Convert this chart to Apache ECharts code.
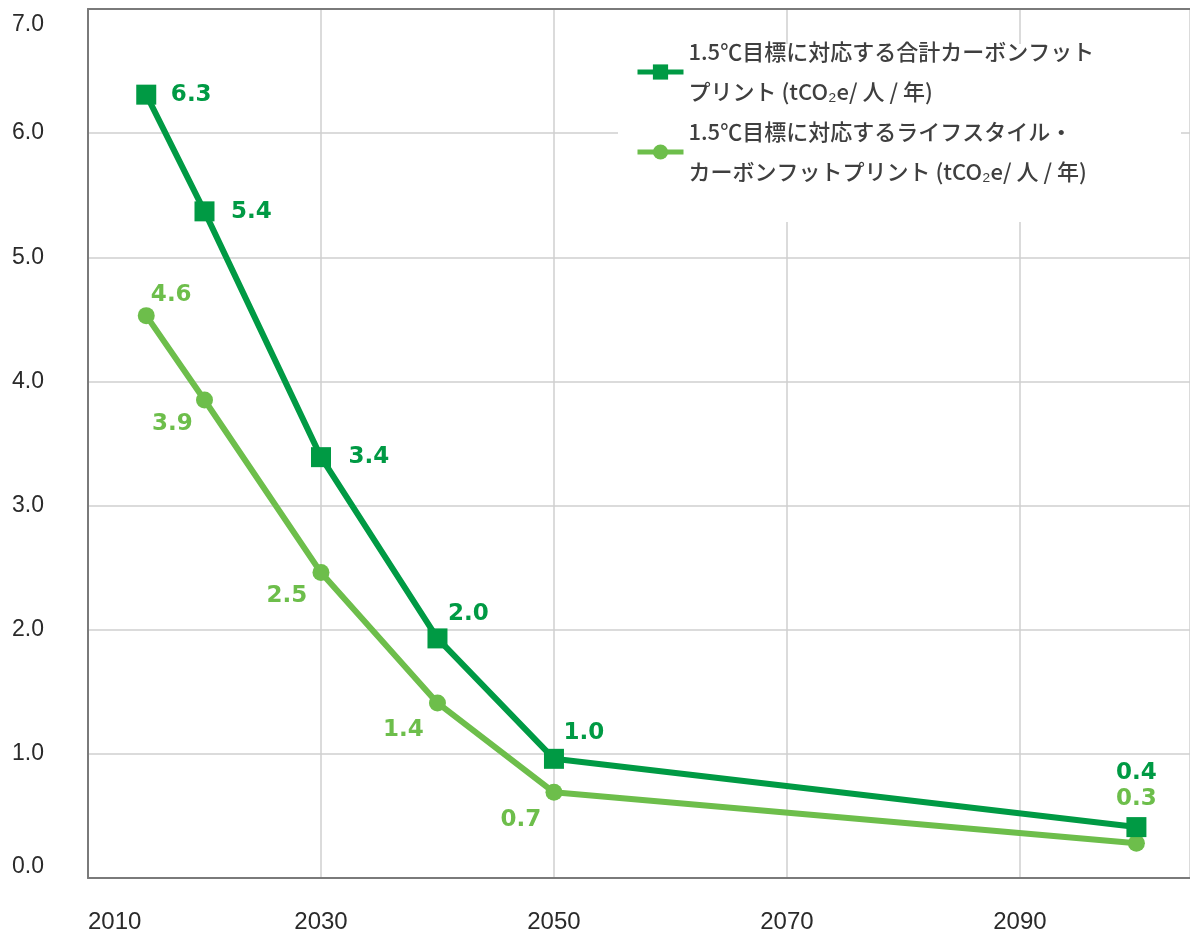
<!DOCTYPE html>
<html><head><meta charset="utf-8">
<script src="https://cdn.jsdelivr.net/npm/echarts@6/dist/echarts.min.js"></script>
<style>html,body{margin:0;padding:0;background:#fff}#c{width:1190px;height:936px}</style>
</head><body><div id="c"></div>
<script>
const years = [2015, 2020, 2030, 2040, 2050, 2100];
const totalFootprint = [6.31, 5.37, 3.39, 1.93, 0.96, 0.41];
const lifestyleFootprint = [4.53, 3.85, 2.46, 1.41, 0.69, 0.28];
const totalLabels = ['6.3', '5.4', '3.4', '2.0', '1.0', '0.4'];
const lifestyleLabels = ['4.6', '3.9', '2.5', '1.4', '0.7', '0.3'];
const seriesNames = [
  '1.5℃目標に対応する合計カーボンフット\nプリント (tCO₂e/ 人 / 年)',
  '1.5℃目標に対応するライフスタイル・\nカーボンフットプリント (tCO₂e/ 人 / 年)'
];

// label placement (style only)
const totalLabelOffsets = [[45, 0], [47, 1], [48, 0], [31, -24], [30, -26], [0, -54]];
const lifestyleLabelOffsets = [[25, -21], [-32, 24], [-34, 23], [-34, 27], [-33, 28], [0, -44]];

const DARK = '#009a44';
const LIGHT = '#6dbe4b';

function buildData(vals, labels, offsets) {
  return years.map((y, i) => ({
    value: [y, vals[i]],
    label: { offset: offsets[i], formatter: labels[i] }
  }));
}

const chart = echarts.init(document.getElementById('c'), null, { renderer: 'canvas' });
chart.setOption({
  animation: false,
  backgroundColor: '#fff',
  grid: { left: 88, right: 0, top: 9, bottom: 58 },
  graphic: [{
    type: 'rect', left: 618, top: 44, z: 1,
    shape: { width: 563, height: 178 },
    style: { fill: '#fff' }
  }],
  legend: {
    orient: 'vertical',
    left: 635,
    top: 12,
    padding: 0,
    itemGap: -40,
    itemWidth: 46,
    itemHeight: 19,
    lineStyle: { width: 5 },
    textStyle: {
      fontFamily: '"Noto Sans CJK JP", sans-serif',
      fontSize: 22,
      fontWeight: 500,
      color: '#3f3f3f',
      lineHeight: 40,
      padding: [40, 0, 0, 0]
    },
    data: seriesNames
  },
  xAxis: [{
    type: 'value',
    min: 2010,
    max: 2104.6,
    interval: 20,
    axisLine: { show: true, lineStyle: { color: '#7a7a7a', width: 2 } },
    axisTick: { show: false },
    splitLine: { show: true, lineStyle: { color: '#cfcfcf', width: 1.5 } },
    axisLabel: {
      showMaxLabel: false,
      alignMinLabel: 'left',
      margin: 32,
      fontFamily: '"Liberation Sans", Arial, sans-serif',
      fontSize: 24,
      color: '#2a2a2a',
      formatter: v => String(v)
    }
  }, {
    type: 'value',
    position: 'top',
    min: 2010,
    max: 2104.6,
    axisLine: { show: true, lineStyle: { color: '#7a7a7a', width: 2 } },
    axisTick: { show: false },
    axisLabel: { show: false },
    splitLine: { show: false }
  }],
  yAxis: {
    type: 'value',
    min: 0,
    max: 7,
    interval: 1,
    axisLine: { show: true, lineStyle: { color: '#7a7a7a', width: 2 } },
    axisTick: { show: false },
    splitLine: { show: true, lineStyle: { color: '#cfcfcf', width: 1.5 } },
    axisLabel: {
      margin: 44,
      fontFamily: '"Liberation Sans", Arial, sans-serif',
      fontSize: 23,
      color: '#2a2a2a',
      padding: [4, 0, 0, 0],
      verticalAlignMinLabel: 'bottom',
      verticalAlignMaxLabel: 'top',
      formatter: v => v.toFixed(1)
    }
  },
  series: [{
    name: seriesNames[0],
    type: 'line',
    z: 3,
    symbol: 'rect',
    symbolSize: 20,
    color: DARK,
    lineStyle: { color: DARK, width: 6 },
    itemStyle: { color: DARK },
    label: {
      show: true, position: 'inside',
      fontFamily: '"DejaVu Sans", sans-serif', fontWeight: 'bold', fontSize: 23, color: DARK
    },
    data: buildData(totalFootprint, totalLabels, totalLabelOffsets)
  }, {
    name: seriesNames[1],
    type: 'line',
    z: 2,
    symbol: 'circle',
    symbolSize: 17,
    color: LIGHT,
    lineStyle: { color: LIGHT, width: 6 },
    itemStyle: { color: LIGHT },
    label: {
      show: true, position: 'inside',
      fontFamily: '"DejaVu Sans", sans-serif', fontWeight: 'bold', fontSize: 23, color: LIGHT
    },
    data: buildData(lifestyleFootprint, lifestyleLabels, lifestyleLabelOffsets)
  }]
});
</script>
</body></html>
